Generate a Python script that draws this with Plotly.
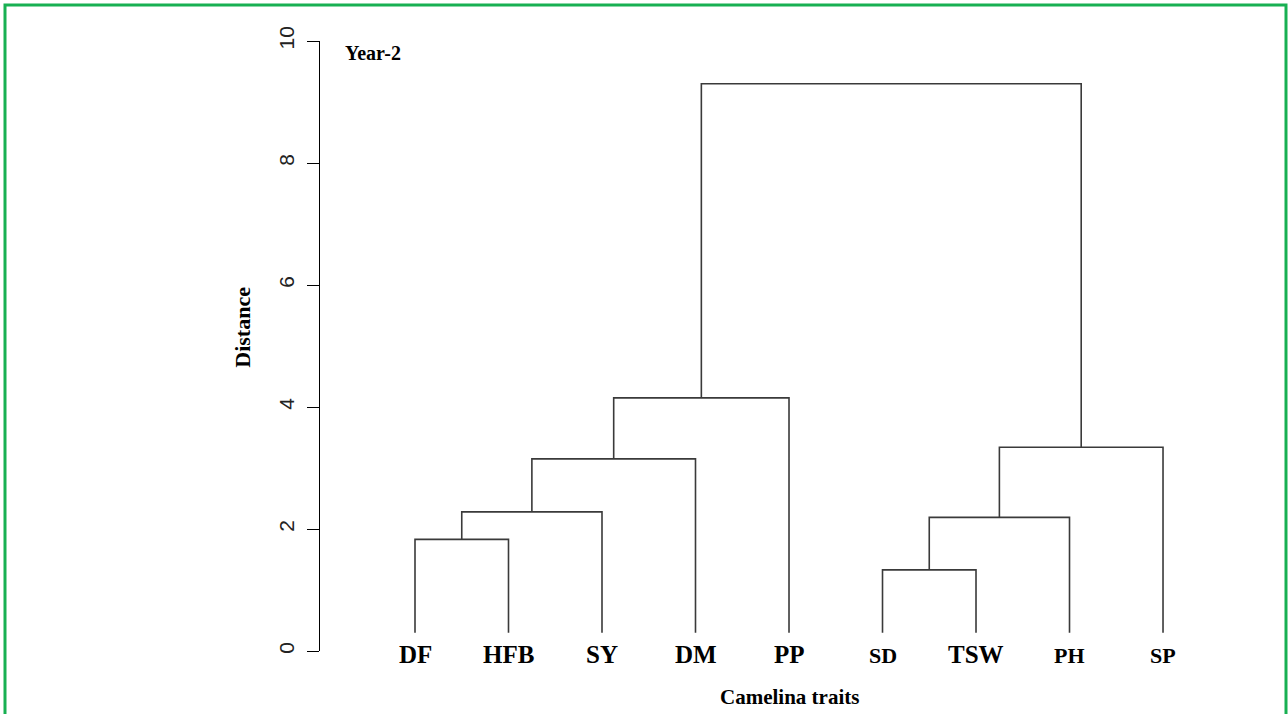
import plotly.graph_objects as go

# ---- data ----
leaf_labels = ["DF", "HFB", "SY", "DM", "PP", "SD", "TSW", "PH", "SP"]
# merges: (left child, right child, height); children are leaf names or merge indices (int)
merge_left = ["DF", 0, 1, 2, "SD", 4, 5, 3]
merge_right = ["HFB", "SY", "DM", "PP", "TSW", "PH", "SP", 6]
merge_height = [1.83, 2.28, 3.15, 4.15, 1.33, 2.19, 3.34, 9.30]
leaf_hang = 0.3
y_ticks = [0, 2, 4, 6, 8, 10]

# ---- styles ----
label_size = {"DF": 25, "HFB": 25, "SY": 25, "DM": 25, "PP": 25,
              "SD": 22, "TSW": 25, "PH": 22, "SP": 22}
LINE = "#3a3a3a"
SERIF = "Liberation Serif"
SANS = "Liberation Sans"
GREEN = "rgb(24,176,82)"

# ---- build dendrogram segments ----
leaf_x = {name: i for i, name in enumerate(leaf_labels)}
node_x, node_y = [], []


def child_pos(c):
    if isinstance(c, str):
        return leaf_x[c], leaf_hang
    return node_x[c], node_y[c]


xs, ys = [], []
for l, r, h in zip(merge_left, merge_right, merge_height):
    lx, ly = child_pos(l)
    rx, ry = child_pos(r)
    xs += [lx, lx, rx, rx, None]
    ys += [ly, h, h, ry, None]
    node_x.append((lx + rx) / 2)
    node_y.append(h)

fig = go.Figure()
fig.add_trace(go.Scatter(x=xs, y=ys, mode="lines",
                         line=dict(color=LINE, width=1.6),
                         hoverinfo="skip", showlegend=False))

annotations = []
for name in leaf_labels:
    sz = label_size[name]
    annotations.append(dict(x=leaf_x[name], y=0, xref="x", yref="y",
                            text=name, showarrow=False, yanchor="middle",
                            yshift=-3 - (25 - sz) * 0.5,
                            font=dict(family=SERIF, size=sz,
                                      color="black", weight="bold")))
annotations.append(dict(x=0, xref="paper", xshift=-77, xanchor="center",
                        y=5.3, yref="y", text="Distance", textangle=-90,
                        showarrow=False,
                        font=dict(family=SERIF, size=22, color="black", weight="bold")))
annotations.append(dict(x=(len(leaf_labels) - 1) / 2, xref="x", y=0, yref="paper",
                        yshift=-46, yanchor="middle", text="Camelina traits",
                        showarrow=False,
                        font=dict(family=SERIF, size=21, color="black", weight="bold")))
annotations.append(dict(x=-0.77, xref="x", xanchor="left", y=9.8, yref="y",
                        text="Year-2", showarrow=False,
                        font=dict(family=SERIF, size=20, color="black", weight="bold")))

shapes = [dict(type="rect", xref="paper", yref="paper",
               xsizemode="pixel", ysizemode="pixel", xanchor=0, yanchor=0,
               x0=-315, x1=966, y0=-120, y1=646,
               line=dict(color=GREEN, width=3), layer="above")]

fig.update_layout(
    width=1288, height=714,
    margin=dict(l=320, r=60, t=41, b=63),
    plot_bgcolor="white", paper_bgcolor="white",
    xaxis=dict(range=[-1.016, 8.695], visible=False, fixedrange=True),
    yaxis=dict(range=[0, 10], tickvals=y_ticks, ticktext=[str(v) for v in y_ticks],
               showline=True, linecolor="black", linewidth=1,
               ticks="outside", ticklen=12, tickwidth=1, tickcolor="black",
               ticklabelstandoff=5,
               tickangle=-90, showgrid=False, zeroline=False,
               tickfont=dict(family=SANS, size=21, color="#222")),
    annotations=annotations,
    shapes=shapes,
    showlegend=False,
)

fig.write_html("out.html", config={"displayModeBar": False},
               post_script="document.body.style.margin='0';document.body.style.overflow='hidden';")
